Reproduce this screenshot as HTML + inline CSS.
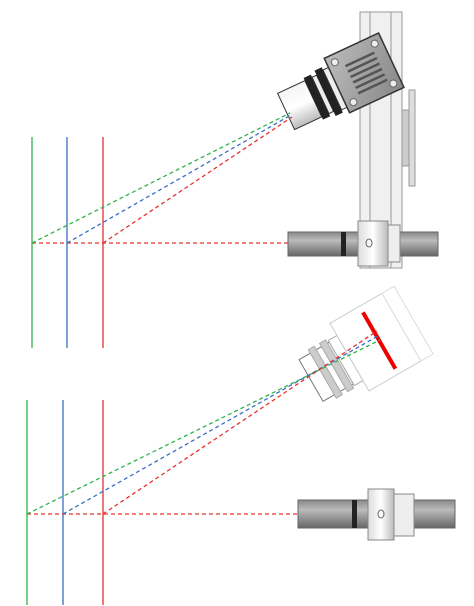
<!DOCTYPE html>
<html><head><meta charset="utf-8"><style>
html,body{margin:0;padding:0;background:#fff;width:474px;height:606px;overflow:hidden}
svg{display:block}
</style></head><body>
<svg id="d" width="474" height="606" viewBox="0 0 474 606">
<defs>
<linearGradient id="rod" x1="0" y1="0" x2="0" y2="1"><stop offset="0" stop-color="#888"/><stop offset="0.35" stop-color="#bbb"/><stop offset="1" stop-color="#666"/></linearGradient>
<linearGradient id="col" x1="0" y1="0" x2="1" y2="0"><stop offset="0" stop-color="#ddd"/><stop offset="0.5" stop-color="#fff"/><stop offset="1" stop-color="#bbb"/></linearGradient>
<linearGradient id="cam" x1="0" y1="0" x2="1" y2="1"><stop offset="0" stop-color="#bbb"/><stop offset="1" stop-color="#888"/></linearGradient>
<linearGradient id="lens" x1="0" y1="0" x2="0" y2="1"><stop offset="0" stop-color="#f4f4f4"/><stop offset="0.5" stop-color="#fff"/><stop offset="1" stop-color="#bbb"/></linearGradient>
</defs>

<g>
<rect x="360" y="12" width="42" height="256" fill="#f0f0f0" stroke="#999"/>
<line x1="370" y1="12" x2="370" y2="268" stroke="#999"/>
<line x1="391" y1="12" x2="391" y2="268" stroke="#999"/>
<rect x="409" y="90" width="6" height="96" fill="#ddd" stroke="#999"/>
<rect x="402" y="110" width="7" height="56" fill="#ccc" stroke="#999"/>
</g>

<g transform="translate(345,84) rotate(-25)">
<rect x="-65" y="-20" width="30" height="40" fill="url(#lens)" stroke="#333"/>
<rect x="-35" y="-23" width="8" height="46" fill="#222"/>
<rect x="-27" y="-20" width="5" height="40" fill="#eee" stroke="#333"/>
<rect x="-22" y="-25" width="8" height="50" fill="#222"/>
<rect x="-14" y="-22" width="6" height="44" fill="#eee" stroke="#333"/>
<rect x="-8" y="-32" width="60" height="60" fill="url(#cam)" stroke="#333" stroke-width="1.5"/>
<g stroke="#555" stroke-width="2.5"><line x1="8" y1="-16" x2="40" y2="-16"/><line x1="8" y1="-10" x2="40" y2="-10"/><line x1="8" y1="-4" x2="40" y2="-4"/><line x1="8" y1="2" x2="40" y2="2"/><line x1="8" y1="8" x2="40" y2="8"/><line x1="8" y1="14" x2="40" y2="14"/></g>
<g fill="#eee" stroke="#666"><circle cx="0" cy="-24" r="3.5"/><circle cx="44" cy="-24" r="3.5"/><circle cx="0" cy="20" r="3.5"/><circle cx="44" cy="20" r="3.5"/></g>
</g>

<g>
<rect x="288" y="232" width="150" height="24" fill="url(#rod)" stroke="#666"/>
<rect x="341" y="232" width="5" height="24" fill="#222"/>
<rect x="358" y="221" width="30" height="45" fill="url(#col)" stroke="#888"/>
<rect x="388" y="225" width="12" height="37" fill="#eee" stroke="#888"/>
<ellipse cx="369" cy="243" rx="3" ry="4" fill="none" stroke="#666"/>
</g>

<g transform="translate(350,358) rotate(-30)">
<rect x="-45" y="-24" width="35" height="48" fill="#fff" stroke="#777"/>
<rect x="-32" y="-28" width="7" height="56" fill="#ccc" stroke="#aaa"/>
<rect x="-19" y="-28" width="7" height="56" fill="#ccc" stroke="#aaa"/>
<rect x="-10" y="-26" width="10" height="52" fill="#fff" stroke="#aaa"/>
<rect x="0" y="-40" width="60" height="78" fill="#fff" stroke="#ccc"/>
<rect x="60" y="-40" width="14" height="78" fill="#fff" stroke="#ddd"/>
<line x1="34" y1="-33" x2="34" y2="32" stroke="#e00" stroke-width="4"/>
</g>

<g>
<rect x="298" y="500" width="157" height="28" fill="url(#rod)" stroke="#666"/>
<rect x="352" y="500" width="5" height="28" fill="#222"/>
<rect x="368" y="489" width="26" height="51" fill="url(#col)" stroke="#888"/>
<rect x="394" y="494" width="20" height="42" fill="#eee" stroke="#888"/>
<ellipse cx="381" cy="514" rx="3" ry="4" fill="none" stroke="#666"/>
</g>

<g id="lines"></g>
</svg>
<script>
const colors=['#2db34a','#3a6fc4','#e8312f'];
const topX=[32,67,103], botX=[27,63,103];
const topSpan=[137,348], botSpan=[400,605];
const topY=243, botY=514;
const topFocus=[[290,113],[291,115],[292,117]];
const botFocus=[[380,340],[378,336],[377,331]];
const topRodX=290, botRodX=298;
const g=document.getElementById('lines');
const NS='http://www.w3.org/2000/svg';
function ln(x1,y1,x2,y2,c,dash,name){
 const l=document.createElementNS(NS,'line');
 l.setAttribute('x1',x1);l.setAttribute('y1',y1);l.setAttribute('x2',x2);l.setAttribute('y2',y2);
 l.setAttribute('stroke',c);l.setAttribute('stroke-width',1.3);
 if(dash)l.setAttribute('stroke-dasharray','4 3');
 
 
 g.appendChild(l);
}
function panel(xs,span,y,foc,rodX,p){
 xs.forEach((x,i)=>ln(x,span[0],x,span[1],colors[i],false,p+'-plane-'+i));
 ln(xs[0],y,rodX,y,colors[2],true,p+'-axis-ray');
 xs.forEach((x,i)=>ln(x,y,foc[i][0],foc[i][1],colors[i],true,p+'-ray-'+i));
}
panel(topX,topSpan,topY,topFocus,topRodX,'top');
panel(botX,botSpan,botY,botFocus,botRodX,'bottom');
</script>
</body></html>
